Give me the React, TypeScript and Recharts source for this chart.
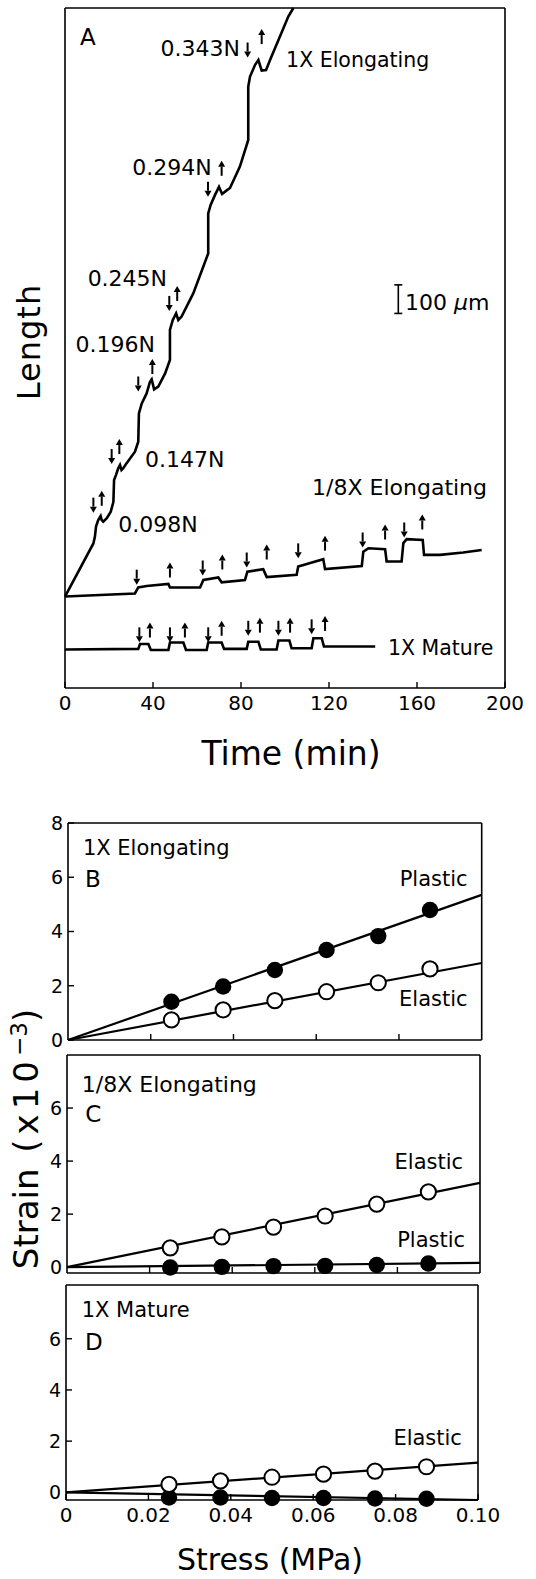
import React from "react";
import { ComposedChart, Label, Line, Scatter, XAxis, YAxis } from "recharts";

const FONT = "DejaVu Sans";
const INK = "#000";
const W = 536;
const H = 1579;

// ---------- Panel A: length vs time (length in µm above the frame bottom) ----------
const timeTicks = [0, 40, 80, 120, 160, 200];
const timeInner = [40, 80, 120, 160];

const elong1x: [number, number][] = [
  [0, 320], [12.9, 506], [13.6, 530], [14.1, 565], [15.1, 588], [16.2, 602], [16.7, 588],
  [17.4, 582], [19.0, 594], [20.8, 617], [22.0, 652], [22.3, 728], [23.2, 746], [24.2, 769],
  [25.0, 781], [25.7, 763], [26.5, 769], [28.0, 787], [31.8, 827], [33.3, 862], [33.6, 961],
  [34.9, 996], [37.1, 1031], [38.6, 1071], [39.4, 1080], [40.5, 1045], [42.4, 1055],
  [45.5, 1101], [47.7, 1148], [47.7, 1253], [49.0, 1288], [50.5, 1311], [51.5, 1288],
  [53.0, 1300], [58.3, 1381], [65.1, 1521], [65.1, 1661], [66.2, 1691], [68.2, 1726],
  [70.0, 1754], [71.4, 1729], [73.2, 1740], [75.0, 1750], [79.5, 1825], [83.3, 1918],
  [83.3, 2105], [84.1, 2140], [86.4, 2181], [87.9, 2198], [89.4, 2161], [91.4, 2163],
  [93.2, 2198], [97.7, 2280], [101.5, 2350], [103.8, 2380],
];

const elong8x: [number, number][] = [
  [0, 320], [31.8, 331], [33.3, 352], [37.1, 357], [47.0, 364], [47.7, 352], [61.4, 352],
  [62.9, 378], [69.7, 387], [71.2, 370], [81.8, 378], [82.9, 407], [90.1, 416], [91.7, 388],
  [105.3, 396], [106.0, 425], [117.4, 451], [118.2, 416], [134.9, 427], [135.6, 477],
  [137.9, 489], [145.5, 486], [146.2, 443], [153.0, 443], [153.8, 507], [155.3, 521],
  [162.6, 518], [163.2, 466], [170.5, 466], [181.0, 474], [189.4, 483],
];

const mature1x: [number, number][] = [
  [0, 135], [33.3, 137], [34.1, 154], [37.9, 154], [39.0, 133], [47.0, 133], [47.7, 159],
  [53.8, 159], [55.0, 133], [64.4, 133], [65.1, 159], [71.2, 159], [72.3, 137], [82.6, 137],
  [83.3, 162], [87.9, 162], [89.0, 135], [96.2, 135], [97.0, 166], [102.0, 166], [103.0, 139],
  [112.1, 139], [112.9, 174], [116.7, 174], [117.7, 145], [141, 145],
];

// load on (down arrow) / load off (up arrow)
const down1x: [number, number][] = [[12.9, 640], [21.2, 810], [33.3, 1064], [47.4, 1346], [65.0, 1746], [83.0, 2233]];
const up1x: [number, number][] = [[16.7, 664], [24.7, 845], [39.7, 1125], [51.0, 1381], [71.2, 1819], [89.4, 2280]];
const down8x: [number, number][] = [[32.6, 388], [62.6, 420], [82.6, 448], [106.0, 480], [135.3, 518], [154.2, 553]];
const up8x: [number, number][] = [[47.7, 413], [71.5, 441], [91.7, 476], [118.2, 507], [145.5, 546], [162.4, 581]];
const downMat: [number, number][] = [[33.8, 186], [47.7, 186], [65.1, 186], [83.3, 209], [97.0, 209], [112.1, 214]];
const upMat: [number, number][] = [[38.6, 203], [54.5, 203], [71.2, 209], [88.6, 220], [102.3, 220], [118.2, 226]];

const scaleBar: [number, number][] = [[151.5, 1311], [151.5, 1411]];

const loadLabelsLeft = [
  { t: 79.5, L: 2212, text: "0.343N" },
  { t: 66.7, L: 1795, text: "0.294N" },
  { t: 46.4, L: 1407, text: "0.245N" },
  { t: 40.9, L: 1176, text: "0.196N" },
];
const loadLabelsRight = [
  { t: 36.4, L: 775, text: "0.147N" },
  { t: 24.2, L: 547, text: "0.098N" },
];
const curveNames = [
  { t: 100.5, L: 2175, text: "1X Elongating" },
  { t: 146.8, L: 115, text: "1X Mature" },
];
const curveName8x = [{ t: 112.3, L: 675, text: "1/8X Elongating" }];
const panelALetter = [{ t: 6.8, L: 2250, text: "A" }];
const scaleText = [{ t: 154.5, L: 1323, text: "100 " }];

// ---------- Panels B–D: strain (x10^-3) vs stress (MPa) ----------
const stress = [0.025, 0.0375, 0.05, 0.0625, 0.075, 0.0875];
const fitStress = [0, 0.1];
const stressTicks = [0, 0.02, 0.04, 0.06, 0.08, 0.1];
const stressInner = [0.02, 0.04, 0.06, 0.08];

const bPlastic = [1.41, 1.97, 2.58, 3.32, 3.83, 4.79];
const bElastic = [0.74, 1.11, 1.45, 1.78, 2.11, 2.62];
const bPlasticFit = [0, 5.35];
const bElasticFit = [0, 2.84];

const cElastic = [0.73, 1.14, 1.51, 1.93, 2.38, 2.84];
const cPlastic = [-0.01, 0.01, 0.04, 0.05, 0.08, 0.14];
const cElasticFit = [0, 3.18];
const cPlasticFit = [0, 0.16];

const dElastic = [0.31, 0.45, 0.59, 0.71, 0.83, 1.0];
const dPlastic = [-0.2, -0.2, -0.22, -0.22, -0.24, -0.25];
const dElasticFit = [0, 1.16];
const dPlasticFit = [0, -0.3];

const bNotes = [
  { s: 0.0036, e: 6.83, text: "1X Elongating" },
  { s: 0.0041, e: 5.63, text: "B" },
];
const bTags = [
  { s: 0.0966, e: 5.68, text: "Plastic" },
  { s: 0.0966, e: 1.25, text: "Elastic" },
];
const cNotes = [
  { s: 0.0036, e: 6.61, text: "1/8X Elongating" },
  { s: 0.0044, e: 5.48, text: "C" },
];
const cTags = [
  { s: 0.0959, e: 3.72, text: "Elastic" },
  { s: 0.0964, e: 0.77, text: "Plastic" },
];
const dNotes = [
  { s: 0.0038, e: 6.86, text: "1X Mature" },
  { s: 0.0046, e: 5.56, text: "D" },
];
const dTags = [{ s: 0.0961, e: 1.85, text: "Elastic" }];

// ---------- helpers ----------
const tRows = (pts: [number, number][]) => pts.map(([t, L]) => ({ t, L }));
const sRows = (xs: number[], ys: number[]) => xs.map((s, i) => ({ s, e: ys[i] }));

const axisLine = { stroke: INK, strokeWidth: 1.6 };
const TICK = 6;

// ticks point into the frame, labels sit outside
function bottomTick(size: number, fmt?: (v: number) => string) {
  return (p: any) => (
    <g>
      <line x1={p.x} x2={p.x} y1={p.y} y2={p.y - TICK} stroke={INK} strokeWidth={1.4} />
      {size > 0 && (
        <text x={p.x} y={p.y + 8} dy="0.72em" textAnchor="middle" fontSize={size} fontFamily={FONT} fill={INK}>
          {fmt ? fmt(p.payload.value) : p.payload.value}
        </text>
      )}
    </g>
  );
}
const topTick = (p: any) => (
  <line x1={p.x} x2={p.x} y1={p.y} y2={p.y + TICK} stroke={INK} strokeWidth={1.4} />
);
function leftTick(size: number) {
  return (p: any) => (
    <g>
      <line x1={p.x} x2={p.x + TICK} y1={p.y} y2={p.y} stroke={INK} strokeWidth={1.4} />
      <text x={p.x - 5} y={p.y} dy="0.36em" textAnchor="end" fontSize={size} fontFamily={FONT} fill={INK}>
        {p.payload.value}
      </text>
    </g>
  );
}
const rightTick = (p: any) => (
  <line x1={p.x} x2={p.x - TICK} y1={p.y} y2={p.y} stroke={INK} strokeWidth={1.4} />
);

function arrowShape(up: boolean) {
  return (p: any) => {
    const { cx, cy } = p;
    const h = 7.5;
    const tip = up ? cy - h : cy + h;
    const tail = up ? cy + h : cy - h;
    const base = up ? tip + 6 : tip - 6;
    return (
      <g>
        <line x1={cx} x2={cx} y1={tail} y2={base} stroke={INK} strokeWidth={2} />
        <polygon points={`${cx - 3.5},${base} ${cx + 3.5},${base} ${cx},${tip}`} fill={INK} />
      </g>
    );
  };
}

function textShape(size: number, anchor: "start" | "end") {
  return (p: any) => (
    <text x={p.cx} y={p.cy} textAnchor={anchor} fontSize={size} fontFamily={FONT} fill={INK}>
      {p.payload.text}
    </text>
  );
}

const dotFilled = (p: any) => <circle cx={p.cx} cy={p.cy} r={8.2} fill={INK} />;
const dotOpen = (p: any) => (
  <circle cx={p.cx} cy={p.cy} r={7.6} fill="#fff" stroke={INK} strokeWidth={2} />
);
const barCap = (p: any) => (
  <line key={p.index} x1={p.cx - 4} x2={p.cx + 4} y1={p.cy} y2={p.cy} stroke={INK} strokeWidth={1.6} />
);

function PanelA() {
  const line = { xAxisId: "b", yAxisId: "l", dataKey: "L", type: "linear" as const, stroke: INK, strokeWidth: 2.6, dot: false, isAnimationActive: false };
  const sc = { xAxisId: "b", yAxisId: "l", dataKey: "L", isAnimationActive: false };
  return (
    <ComposedChart width={W} height={H} margin={{ top: 7, right: 30, bottom: 831, left: 0 }}>
      <XAxis
        xAxisId="b" dataKey="t" type="number" domain={[0, 200]} ticks={timeTicks} interval={0}
        height={60} tickSize={0} tickMargin={0} axisLine={axisLine} tickLine={false} tick={bottomTick(20)}
      >
        <Label
          content={(p: any) => (
            <text x={p.viewBox.x + p.viewBox.width / 2 + 6} y={p.viewBox.y + 77} textAnchor="middle" fontSize={33} fontFamily={FONT} fill={INK}>
              Time (min)
            </text>
          )}
        />
      </XAxis>
      <XAxis
        xAxisId="top" orientation="top" dataKey="t" type="number" domain={[0, 200]} ticks={timeInner}
        interval={0} height={1} tickSize={0} tickMargin={0} tick={topTick} tickLine={false} axisLine={axisLine}
      />
      <YAxis
        yAxisId="l" type="number" domain={[0, 2380]} width={65} tick={false} tickLine={false} axisLine={axisLine}
      >
        <Label
          content={(p: any) => {
            const x = p.viewBox.x + 40;
            const y = p.viewBox.y + p.viewBox.height / 2 - 6;
            return (
              <text x={x} y={y} transform={`rotate(-90 ${x} ${y})`} textAnchor="middle" fontSize={32} letterSpacing={1} fontFamily={FONT} fill={INK}>
                Length
              </text>
            );
          }}
        />
      </YAxis>
      <YAxis yAxisId="r" orientation="right" type="number" domain={[0, 2380]} width={1} tick={false} tickLine={false} axisLine={axisLine} />

      <Line {...line} data={tRows(elong1x)} />
      <Line {...line} data={tRows(elong8x)} />
      <Line {...line} data={tRows(mature1x)} />
      <Line {...line} data={tRows(scaleBar)} strokeWidth={1.6} dot={barCap} />

      <Scatter {...sc} data={tRows(down1x)} shape={arrowShape(false)} />
      <Scatter {...sc} data={tRows(up1x)} shape={arrowShape(true)} />
      <Scatter {...sc} data={tRows(down8x)} shape={arrowShape(false)} />
      <Scatter {...sc} data={tRows(up8x)} shape={arrowShape(true)} />
      <Scatter {...sc} data={tRows(downMat)} shape={arrowShape(false)} />
      <Scatter {...sc} data={tRows(upMat)} shape={arrowShape(true)} />

      <Scatter {...sc} data={loadLabelsLeft} shape={textShape(22, "end")} />
      <Scatter {...sc} data={loadLabelsRight} shape={textShape(22, "start")} />
      <Scatter {...sc} data={curveNames} shape={textShape(20.5, "start")} />
      <Scatter {...sc} data={curveName8x} shape={textShape(22, "start")} />
      <Scatter {...sc} data={panelALetter} shape={textShape(23, "start")} />
      <Scatter
        {...sc}
        data={scaleText}
        shape={(p: any) => (
          <text x={p.cx} y={p.cy} fontSize={22} fontFamily={FONT} fill={INK}>
            {p.payload.text}
            <tspan fontStyle="italic">μ</tspan>m
          </text>
        )}
      />
    </ComposedChart>
  );
}

type PanelProps = {
  top: number;
  bottom: number;
  left: number;
  right: number;
  yDomain: [number, number];
  yTicks: number[];
  elastic: number[];
  plastic: number[];
  elasticFit: number[];
  plasticFit: number[];
  notes: { s: number; e: number; text: string }[];
  tags: { s: number; e: number; text: string }[];
  nameSize: number;
  showX?: boolean;
  yTitle?: boolean;
};

const fmtStress = (v: number) => (v === 0 ? "0" : v.toFixed(2));

function StrainPanel(props: PanelProps) {
  const { top, bottom, left, right, yDomain, yTicks, elastic, plastic, elasticFit, plasticFit, notes, tags, nameSize, showX, yTitle } = props;
  const xH = showX ? 60 : 1;
  const fit = { xAxisId: "b", yAxisId: "l", dataKey: "e", type: "linear" as const, stroke: INK, strokeWidth: 2.2, dot: false, isAnimationActive: false };
  const sc = { xAxisId: "b", yAxisId: "l", dataKey: "e", isAnimationActive: false };
  return (
    <ComposedChart width={W} height={H} margin={{ top: top - 1, right: W - right - 1, bottom: H - bottom - xH, left: 0 }}>
      <XAxis
        xAxisId="b" dataKey="s" type="number" domain={[0, 0.1]} ticks={showX ? stressTicks : stressInner}
        interval={0} height={xH} tickSize={0} tickMargin={0} axisLine={axisLine} tickLine={false}
        tick={bottomTick(showX ? 20 : 0, fmtStress)}
      >
        {showX && (
          <Label
            content={(p: any) => (
              <text x={p.viewBox.x + p.viewBox.width / 2 - 2} y={p.viewBox.y + 70} textAnchor="middle" fontSize={30} fontFamily={FONT} fill={INK}>
                Stress (MPa)
              </text>
            )}
          />
        )}
      </XAxis>
      <XAxis
        xAxisId="top" orientation="top" dataKey="s" type="number" domain={[0, 0.1]} ticks={stressInner}
        interval={0} height={1} tickSize={0} tickMargin={0} tick={topTick} tickLine={false} axisLine={axisLine}
      />
      <YAxis
        yAxisId="l" type="number" domain={yDomain} ticks={yTicks} interval={0} width={left}
        tickSize={0} tickMargin={0} axisLine={axisLine} tickLine={false} tick={leftTick(19)}
      >
        {yTitle && (
          <Label
            content={(p: any) => {
              const x = p.viewBox.x + 38;
              const y = p.viewBox.y + p.viewBox.height / 2 - 25;
              return (
                <text x={x} y={y} transform={`rotate(-90 ${x} ${y})`} textAnchor="middle" fontSize={34} fontFamily={FONT} fill={INK}>
                  Strain
                  <tspan letterSpacing={5}> (x10</tspan>
                  <tspan dy={-11} fontSize={23}>−3</tspan>
                  <tspan dy={11}>)</tspan>
                </text>
              );
            }}
          />
        )}
      </YAxis>
      <YAxis
        yAxisId="r" orientation="right" type="number" domain={yDomain} ticks={yTicks.filter((v) => v > 0)}
        interval={0} width={1} tickSize={0} tickMargin={0} tick={rightTick} tickLine={false} axisLine={axisLine}
      />

      <Line {...fit} data={sRows(fitStress, plasticFit)} />
      <Line {...fit} data={sRows(fitStress, elasticFit)} />
      <Scatter {...sc} data={sRows(stress, plastic)} shape={dotFilled} />
      <Scatter {...sc} data={sRows(stress, elastic)} shape={dotOpen} />

      <Scatter {...sc} data={notes.slice(0, 1)} shape={textShape(nameSize, "start")} />
      <Scatter {...sc} data={notes.slice(1)} shape={textShape(23, "start")} />
      <Scatter {...sc} data={tags} shape={textShape(21, "end")} />
    </ComposedChart>
  );
}

const layer: React.CSSProperties = { position: "absolute", left: 0, top: 0 };

export default function App() {
  return (
    <div style={{ position: "absolute", left: 0, top: 0, width: W, height: H, background: "#fff", overflow: "hidden" }}>
      <div style={layer}>
        <PanelA />
      </div>
      <div style={layer}>
        <StrainPanel
          top={823} bottom={1040} left={68} right={481.7} yDomain={[0, 8]} yTicks={[0, 2, 4, 6, 8]}
          elastic={bElastic} plastic={bPlastic} elasticFit={bElasticFit} plasticFit={bPlasticFit}
          notes={bNotes} tags={bTags} nameSize={21}
        />
      </div>
      <div style={layer}>
        <StrainPanel
          top={1055} bottom={1273} left={67} right={480} yDomain={[-0.22, 8]} yTicks={[0, 2, 4, 6]}
          elastic={cElastic} plastic={cPlastic} elasticFit={cElasticFit} plasticFit={cPlasticFit}
          notes={cNotes} tags={cTags} nameSize={22} yTitle
        />
      </div>
      <div style={layer}>
        <StrainPanel
          top={1285} bottom={1500} left={66} right={478} yDomain={[-0.3, 8.1]} yTicks={[0, 2, 4, 6]}
          elastic={dElastic} plastic={dPlastic} elasticFit={dElasticFit} plasticFit={dPlasticFit}
          notes={dNotes} tags={dTags} nameSize={21} showX
        />
      </div>
    </div>
  );
}
